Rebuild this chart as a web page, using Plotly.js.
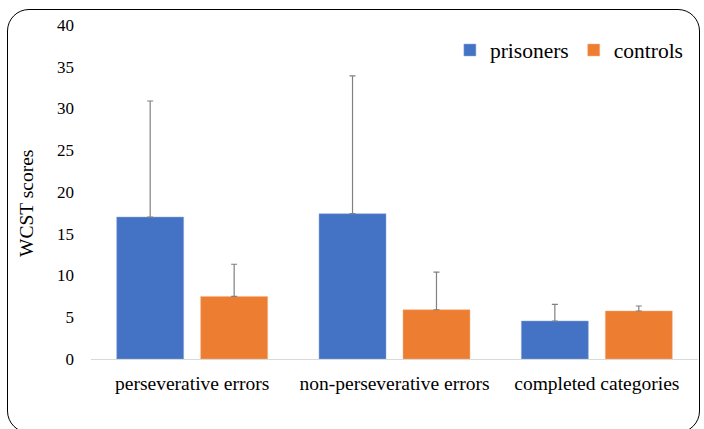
<!DOCTYPE html>
<html>
<head>
<meta charset="utf-8">
<script src="https://cdn.plot.ly/plotly-3.0.1.min.js"></script>
<style>
  html, body { margin: 0; padding: 0; background: #fff; overflow: hidden; }
  #chart { width: 704px; height: 429px; }
  #frame { position: absolute; left: 7px; top: 9px; width: 693px; height: 424px;
           border: 1.3px solid #000; border-radius: 22px; box-sizing: border-box; pointer-events: none; }
</style>
</head>
<body>
<div id="chart"></div>
<div id="frame"></div>
<script>
const categories = ["perseverative errors", "non-perseverative errors", "completed categories"];
const prisoners = [17.0, 17.4, 4.55];
const prisonersSD = [13.9, 16.5, 2.0];
const controls = [7.5, 5.9, 5.75];
const controlsSD = [3.85, 4.5, 0.6];
const seriesNames = ["prisoners", "controls"];
const yTicks = [0, 5, 10, 15, 20, 25, 30, 35, 40];
const yTitle = "WCST scores";

const fontFam = "Liberation Serif";

const traces = [
  {
    type: "bar", name: seriesNames[0], x: categories, y: prisoners,
    marker: { color: "#4472C4", line: { color: "#8faadc", width: 0.5 } },
    error_y: { type: "data", symmetric: false, array: prisonersSD, arrayminus: prisoners.map(() => 0),
               color: "#808080", thickness: 1.2, width: 3 },
    hoverinfo: "none"
  },
  {
    type: "bar", name: seriesNames[1], x: categories, y: controls,
    marker: { color: "#ED7D31", line: { color: "#f4b183", width: 0.5 } },
    error_y: { type: "data", symmetric: false, array: controlsSD, arrayminus: controls.map(() => 0),
               color: "#808080", thickness: 1.2, width: 3 },
    hoverinfo: "none"
  }
];

const layout = {
  width: 704, height: 429,
  margin: { l: 91, r: 6, t: 25, b: 70 },
  paper_bgcolor: "#fff", plot_bgcolor: "#fff",
  font: { family: fontFam, color: "#000", size: 17 },
  barmode: "group", bargap: 0.17, bargroupgap: 0.2024,
  showlegend: true,
  legend: { orientation: "h", x: 0.985, xanchor: "right", y: 0.925, yanchor: "middle",
            font: { family: fontFam, size: 21.5, color: "#000" },
            traceorder: "normal" },
  xaxis: {
    type: "category", showgrid: false, zeroline: false, showline: false,
    tickfont: { family: fontFam, size: 19.5, color: "#000" }, ticks: "", ticklabelstandoff: 10
  },
  yaxis: {
    range: [0, 40], tickvals: yTicks, ticktext: yTicks.map(String),
    showgrid: false, zeroline: true, zerolinecolor: "#d9d9d9", zerolinewidth: 1,
    showline: false, ticks: "", tickfont: { family: fontFam, size: 17, color: "#000" },
    ticklabelstandoff: 16
  },
  annotations: [{
    text: yTitle, xref: "paper", yref: "paper", x: 0, y: 0.464, xshift: -65,
    xanchor: "center", yanchor: "middle", textangle: -90, showarrow: false,
    font: { family: fontFam, size: 19.5, color: "#000" }
  }]
};

Plotly.newPlot("chart", traces, layout, { displayModeBar: false });
</script>
</body>
</html>
